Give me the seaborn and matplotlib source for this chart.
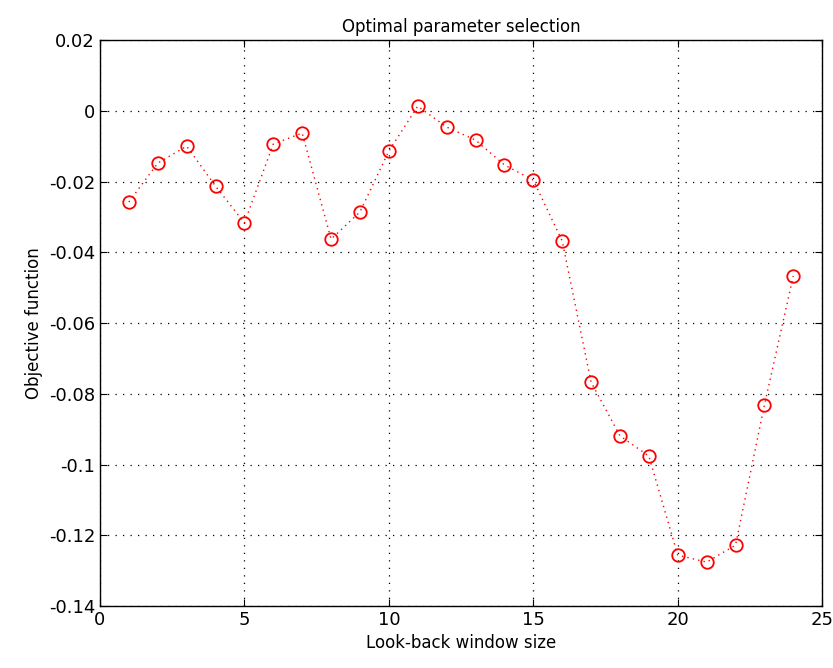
import matplotlib
matplotlib.use("Agg")
import matplotlib.pyplot as plt
import seaborn as sns
import pandas as pd

window = list(range(1, 25))
objective = [-0.0258, -0.0148, -0.0100, -0.0213, -0.0317, -0.0094, -0.0063, -0.0363,
             -0.0286, -0.0114, 0.0013, -0.0046, -0.0083, -0.0153, -0.0196, -0.0368,
             -0.0767, -0.0919, -0.0976, -0.1256, -0.1276, -0.1228, -0.0832, -0.0467]
xticks = [0, 5, 10, 15, 20, 25]
yticks = [0.02, 0, -0.02, -0.04, -0.06, -0.08, -0.1, -0.12, -0.14]
ytick_labels = ["0.02", "0", "-0.02", "-0.04", "-0.06", "-0.08", "-0.1", "-0.12", "-0.14"]

sns.set_style("ticks")
plt.rcParams['font.family'] = ['DejaVu Sans']
plt.rcParams['text.color'] = 'black'
plt.rcParams['axes.labelcolor'] = 'black'

df = pd.DataFrame({"window": window, "objective": objective})

fig = plt.figure(figsize=(8.33, 6.68), dpi=100)
ax = fig.add_axes([0.120, 0.0928, 0.867, 0.8473])

sns.lineplot(data=df, x="window", y="objective", ax=ax, color="red",
             linestyle=(0, (1, 3)), linewidth=1.0, marker="o", markersize=9,
             markerfacecolor="none", markeredgecolor="red", markeredgewidth=1.3)

ax.set_xlim(0, 25)
ax.set_ylim(-0.14, 0.02)
ax.set_xticks(xticks)
ax.set_yticks(yticks)
ax.set_yticklabels(ytick_labels)
ax.grid(True, color="black", linestyle=(0, (1, 5)), linewidth=0.9)
for s in ax.spines.values():
    s.set_visible(True)
    s.set_color("black")
    s.set_linewidth(1.0)
ax.tick_params(direction="in", length=5, labelsize=13, colors="black",
               top=True, right=True)
ax.set_xlabel("Look-back window size", fontsize=12, color="black")
ax.set_ylabel("Objective function", fontsize=12, color="black")
ax.set_title("Optimal parameter selection", fontsize=12, color="black")

fig.savefig("out.png", dpi=100)
